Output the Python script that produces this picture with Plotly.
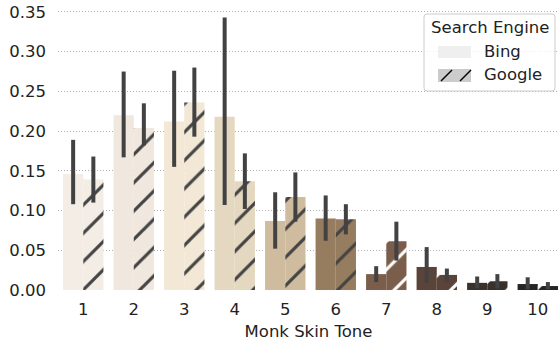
import plotly.graph_objects as go
import colorsys

tones = [1, 2, 3, 4, 5, 6, 7, 8, 9, 10]
tone_labels = ["1", "2", "3", "4", "5", "6", "7", "8", "9", "10"]

bing_mean = [0.146, 0.220, 0.212, 0.218, 0.087, 0.090, 0.020, 0.029, 0.009, 0.0075]
bing_hi = [0.189, 0.275, 0.276, 0.343, 0.123, 0.119, 0.030, 0.054, 0.017, 0.016]
bing_lo = [0.108, 0.167, 0.155, 0.107, 0.052, 0.062, 0.010, 0.009, 0.002, 0.001]

google_mean = [0.139, 0.204, 0.236, 0.137, 0.117, 0.089, 0.0615, 0.019, 0.011, 0.005]
google_hi = [0.168, 0.235, 0.280, 0.172, 0.148, 0.108, 0.086, 0.027, 0.020, 0.010]
google_lo = [0.110, 0.182, 0.193, 0.102, 0.086, 0.070, 0.037, 0.010, 0.002, 0.001]

engines = ["Bing", "Google"]
legend_title = "Search Engine"

monk = ["#f6ede4", "#f3e7db", "#f7ead0", "#eadaba", "#d7bd96",
        "#a07e56", "#825c43", "#604134", "#3a312a", "#292420"]


def desat(hexc, s=0.75):
    r, g, b = (int(hexc[i:i + 2], 16) / 255 for i in (1, 3, 5))
    h, l, sat = colorsys.rgb_to_hls(r, g, b)
    r, g, b = colorsys.hls_to_rgb(h, l, sat * s)
    return "#%02x%02x%02x" % (round(r * 255), round(g * 255), round(b * 255))


colors = [desat(c) for c in monk]
err_color = "#424242"
FS = 16.5

W, H = 559, 346
ML, MR, MT, MB = 58, 0, 4, 56
PW, PH = W - ML - MR, H - MT - MB

fig = go.Figure()

fig.add_trace(go.Bar(
    x=tones, y=bing_mean, width=0.4, offset=-0.4,
    marker=dict(color=colors, line=dict(width=0)),
    error_y=dict(type="data", symmetric=False,
                 array=[h - m for h, m in zip(bing_hi, bing_mean)],
                 arrayminus=[m - l for m, l in zip(bing_mean, bing_lo)],
                 color=err_color, thickness=4, width=0),
    showlegend=False, name=engines[0]))

fig.add_trace(go.Bar(
    x=tones, y=google_mean, width=0.4, offset=0.0,
    marker=dict(color=colors, line=dict(width=0),
                pattern=dict(shape="/", fgcolor="#000000", fgopacity=1,
                             size=20, solidity=0.16)),
    error_y=dict(type="data", symmetric=False,
                 array=[h - m for h, m in zip(google_hi, google_mean)],
                 arrayminus=[m - l for m, l in zip(google_mean, google_lo)],
                 color=err_color, thickness=4, width=0),
    showlegend=False, name=engines[1]))


# --- legend box (decoration, in paper coordinates from pixel positions) ---
def px(xp):
    return (xp - ML) / PW


def py(yp):
    return (H - MB - yp) / PH


shapes = []
x0, x1, y0, y1, r = 424, 555, 14, 91, 3
rx, ry = r / PW, r / PH
path = (f"M{px(x0)+rx},{py(y0)} L{px(x1)-rx},{py(y0)} Q{px(x1)},{py(y0)} {px(x1)},{py(y0)-ry} "
        f"L{px(x1)},{py(y1)+ry} Q{px(x1)},{py(y1)} {px(x1)-rx},{py(y1)} "
        f"L{px(x0)+rx},{py(y1)} Q{px(x0)},{py(y1)} {px(x0)},{py(y1)+ry} "
        f"L{px(x0)},{py(y0)-ry} Q{px(x0)},{py(y0)} {px(x0)+rx},{py(y0)} Z")
shapes.append(dict(type="path", xref="paper", yref="paper", path=path,
                   line=dict(color="#cccccc", width=1),
                   fillcolor="rgba(255,255,255,0.8)", layer="above"))
shapes.append(dict(type="rect", xref="paper", yref="paper",
                   x0=px(438), x1=px(471), y0=py(58), y1=py(46),
                   line=dict(width=0), fillcolor="#efefef", layer="above"))
shapes.append(dict(type="rect", xref="paper", yref="paper",
                   x0=px(438), x1=px(471), y0=py(82), y1=py(69),
                   line=dict(width=0), fillcolor="#cccccc", layer="above"))
for a, b in [(441, 452), (460, 471)]:
    shapes.append(dict(type="line", xref="paper", yref="paper",
                       x0=px(a), y0=py(81), x1=px(b), y1=py(70),
                       line=dict(color="black", width=1.4), layer="above"))

annotations = [
    dict(text=legend_title, x=px(490), y=py(27), xref="paper", yref="paper",
         xanchor="center", yanchor="middle", showarrow=False, font=dict(size=FS)),
    dict(text=engines[0], x=px(482), y=py(51), xref="paper", yref="paper",
         xanchor="left", yanchor="middle", showarrow=False, font=dict(size=FS)),
    dict(text=engines[1], x=px(482), y=py(74), xref="paper", yref="paper",
         xanchor="left", yanchor="middle", showarrow=False, font=dict(size=FS)),
]

fig.update_layout(
    width=W, height=H,
    margin=dict(l=ML, r=MR, t=MT, b=MB),
    barmode="overlay",
    plot_bgcolor="white", paper_bgcolor="white",
    font=dict(family="DejaVu Sans", size=FS, color="#222222"),
    shapes=shapes, annotations=annotations,
    showlegend=False,
)
fig.update_xaxes(range=[0.5, 10.42], tickmode="array", tickvals=tones,
                 ticktext=tone_labels, showgrid=False, zeroline=False,
                 showline=False, ticks="", ticklabelstandoff=7,
                 tickfont=dict(size=FS),
                 title=dict(text="Monk Skin Tone", standoff=7, font=dict(size=FS)))
fig.update_yaxes(range=[0, 0.36], tickvals=[0, 0.05, 0.1, 0.15, 0.2, 0.25, 0.3, 0.35],
                 tickformat=".2f", showgrid=True, gridcolor="#b0b0b0",
                 griddash="1px,2px", gridwidth=1, zeroline=False,
                 showline=False, ticks="", ticklabelstandoff=11,
                 tickfont=dict(size=FS))

fig.write_html("out.html", config={"displayModeBar": False},
               post_script="document.body.style.margin='0px';")
